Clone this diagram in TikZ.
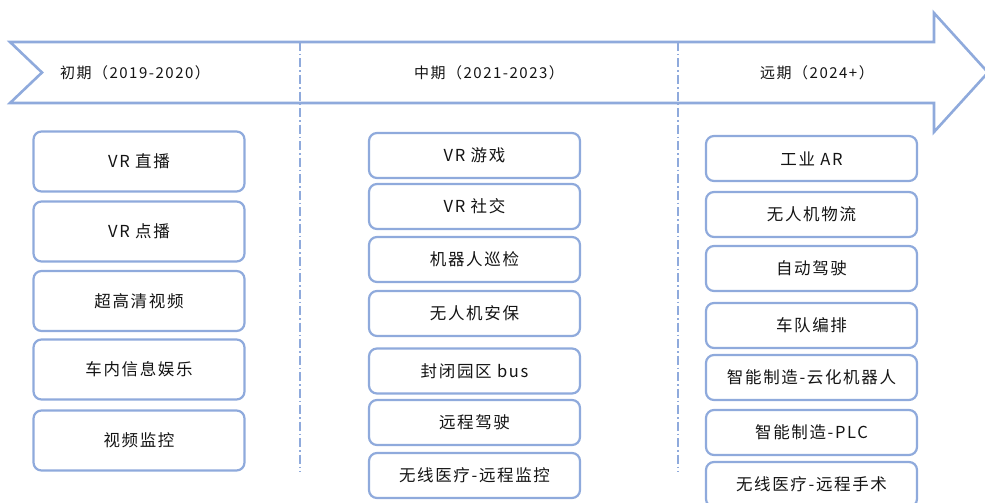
\documentclass[tikz,border=0pt]{standalone}
\usepackage{fontspec}
\usepackage{tikz}
\usetikzlibrary{positioning}
\newfontfamily\cjk[LetterSpace=10]{Noto Sans CJK SC}
\definecolor{arrowblue}{RGB}{143,170,220}
\definecolor{textgray}{RGB}{20,20,20}

\begin{document}
\begin{tikzpicture}
  [x=1pt,y=-1pt,
   every node/.style={font=\cjk\fontsize{16.5}{18}\selectfont,text=textgray},
   phase/.style={font=\cjk\fontsize{15}{17}\selectfont},
   card/.style={rectangle,rounded corners=8pt,draw=arrowblue,line width=2.2pt,
     fill=white,minimum width=211pt,inner sep=0pt},
   tallcard/.style={card,minimum height=60pt},
   shortcard/.style={card,minimum height=45pt},
   band/.style={draw=arrowblue,line width=2.6pt,fill=white,line join=miter},
   split/.style={draw=arrowblue,line width=1.6pt,dash pattern=on 9pt off 3pt on 1.5pt off 3pt},
  ]
  \useasboundingbox (0,0) rectangle (985,503);

  % timeline arrow
  \draw[band] (10,42) -- (934,42) -- (934,13) -- (988,72.5) -- (934,132)
    -- (934,103) -- (10,103) -- (42,72.5) -- cycle;

  % phase separators
  \coordinate (s1top) at (300,42);
  \coordinate (s1bot) at (300,472);
  \coordinate (s2top) at (678,42);
  \coordinate (s2bot) at (678,472);
  \draw[split] (s1top) -- (s1bot);
  \draw[split] (s2top) -- (s2bot);

  \node[phase] (early) at (135,72.5) {初期（2019-2020）};
  \node[phase] (mid)   at (489,72.5) {中期（2021-2023）};
  \node[phase] (late)  at (817,72.5) {远期（2024+）};

  % early
  \node[tallcard] (vrlive)  at (139,161.5) {VR 直播};
  \node[tallcard] (vrvod)   at (139,231.5) {VR 点播};
  \node[tallcard] (uhd)     at (139,301)   {超高清视频};
  \node[tallcard] (infotain) at (139,369.5) {车内信息娱乐};
  \node[tallcard] (cctv)    at (139,440.5) {视频监控};

  % mid
  \node[shortcard] (vrgame)   at (474.5,155.5) {VR 游戏};
  \node[shortcard] (vrsocial) at (474.5,206.5) {VR 社交};
  \node[shortcard] (patrol)   at (474.5,259.5) {机器人巡检};
  \node[shortcard] (uavsec)   at (474.5,313.5) {无人机安保};
  \node[shortcard] (parkbus)  at (474.5,371)   {封闭园区 bus};
  \node[shortcard] (remdrive) at (474.5,422.5) {远程驾驶};
  \node[shortcard] (remmon)   at (474.5,475.5) {无线医疗-远程监控};

  % late
  \node[shortcard] (indar)    at (811.5,158.5) {工业 AR};
  \node[shortcard] (uavlog)   at (811.5,214.5) {无人机物流};
  \node[shortcard] (autodrv)  at (811.5,268.5) {自动驾驶};
  \node[shortcard] (platoon)  at (811.5,325.5) {车队编排};
  \node[shortcard] (cloudbot) at (811.5,377.5) {智能制造-云化机器人};
  \node[shortcard] (plc)      at (811.5,432.5) {智能制造-PLC};
  \node[shortcard] (remsurg)  at (811.5,484.5) {无线医疗-远程手术};
\end{tikzpicture}
\end{document}
